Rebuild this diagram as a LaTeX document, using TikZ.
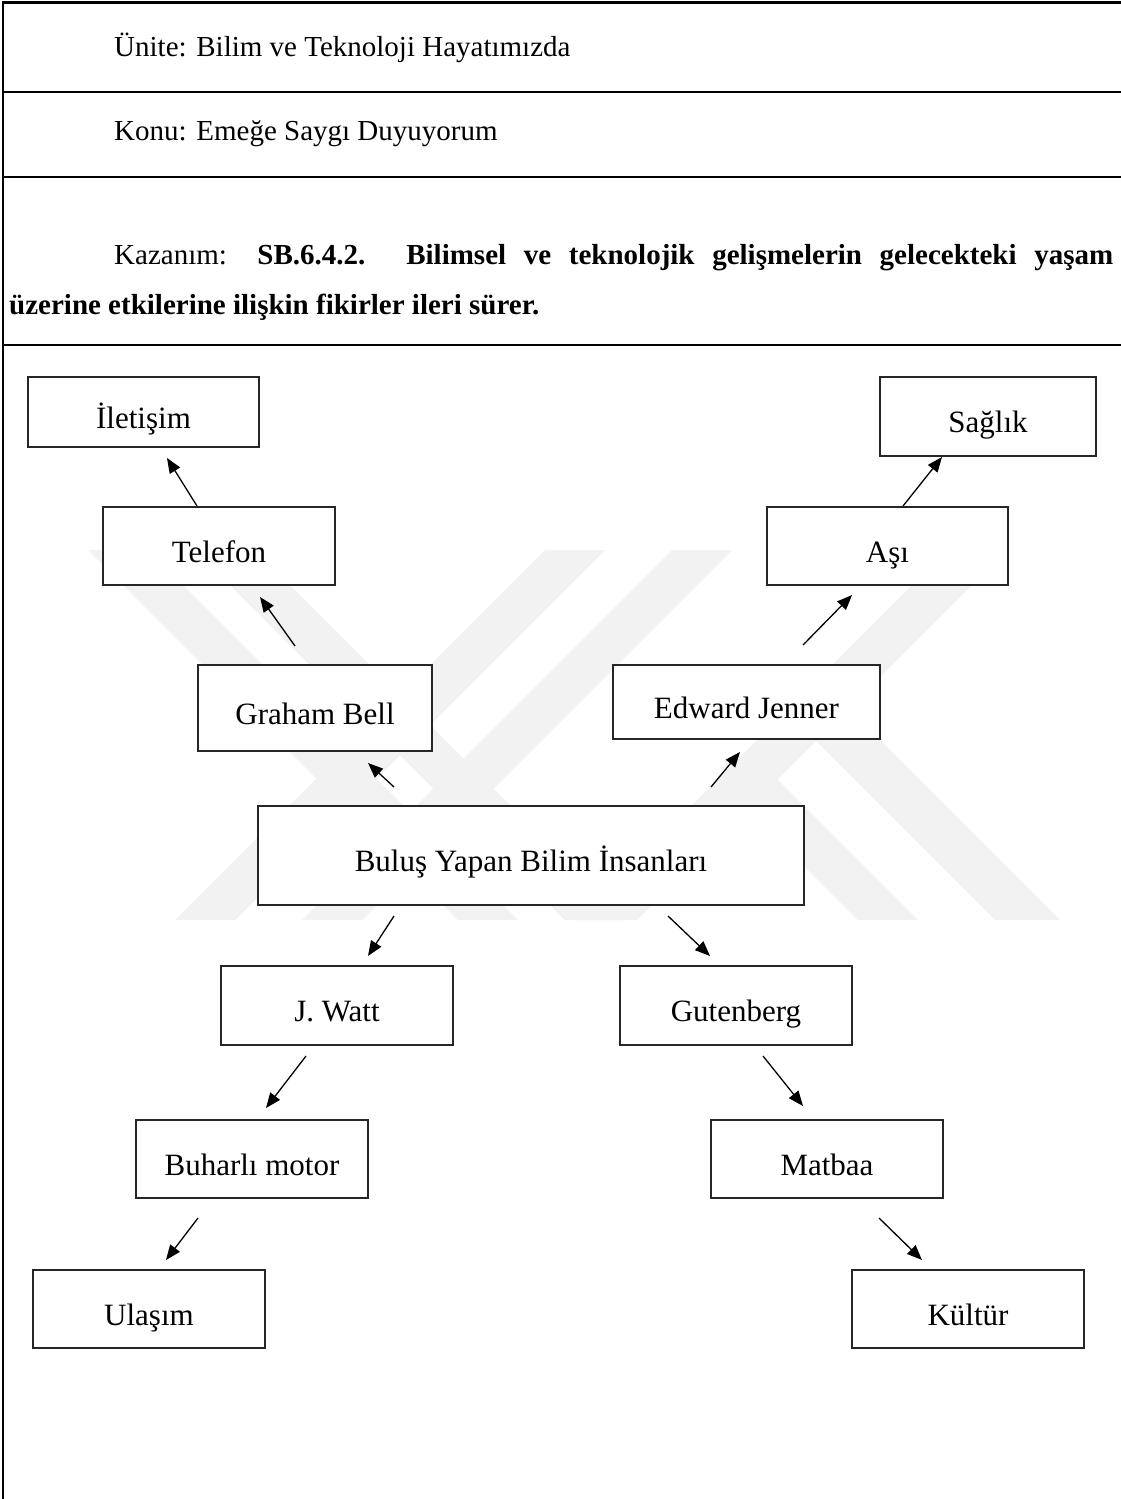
\documentclass[tikz,border=0pt]{standalone}
\usepackage{fontspec}
\setmainfont{Liberation Serif}
\usetikzlibrary{arrows.meta}
\begin{document}
\begin{tikzpicture}[x=1pt,y=-1pt,
  frameline/.style={line width=2.4pt,black},
  box/.style={draw=black!85,line width=1.3pt,fill=white,inner sep=0pt,
    font=\fontsize{31}{37}\selectfont,text height=33pt,text depth=1pt},
  arr/.style={line width=1.3pt,black,-{Triangle[length=15pt,width=12pt]}},
  hdr/.style={anchor=base west,inner sep=0pt,font=\fontsize{29}{35}\selectfont},
  wm/.style={fill=black!5,draw=none}]
\useasboundingbox (0,0) rectangle (1121,1499);
\fill[white] (0,0) rectangle (1121,1499);
% watermark
\fill[wm] (88,550) -- (148,550) -- (518,920) -- (458,920) -- cycle;
\fill[wm] (195,550) -- (255,550) -- (625,920) -- (565,920) -- cycle;
\fill[wm] (545,550) -- (605,550) -- (235,920) -- (175,920) -- cycle;
\fill[wm] (672,550) -- (732,550) -- (362,920) -- (302,920) -- cycle;
\fill[wm] (947,550) -- (1007,550) -- (637,920) -- (577,920) -- cycle;
\fill[wm] (717.5,779.5) -- (747.5,749.5) -- (918,920) -- (858,920) -- cycle;
\fill[wm] (786,711) -- (818.5,678.5) -- (1060,920) -- (995,920) -- cycle;
% frame
\draw[frameline] (3,1499) -- (3,2.5) -- (1121,2.5);
\draw[frameline] (3,92) -- (1121,92);
\draw[frameline] (3,177) -- (1121,177);
\draw[frameline] (3,345) -- (1121,345);
% header texts
\node[hdr] (unite) at (114,56) {Ünite: Bilim ve Teknoloji Hayatımızda};
\node[hdr] (konu) at (114,140) {Konu: Emeğe Saygı Duyuyorum};
\node[hdr] (kazanim) at (9,264) {\parbox[t]{1104pt}{\fontsize{29}{50}\selectfont\hspace*{105pt}Kazanım: \textbf{SB.6.4.2. Bilimsel ve teknolojik gelişmelerin gelecekteki yaşam\linebreak üzerine etkilerine ilişkin fikirler ileri sürer.}}};
% boxes
\node[box,minimum width=231pt,minimum height=70pt] (ilet) at (143.5,412) {İletişim};
\node[box,minimum width=216pt,minimum height=79pt] (saglik) at (988,416.5) {Sağlık};
\node[box,minimum width=232pt,minimum height=78pt] (telefon) at (219,546) {Telefon};
\node[box,minimum width=241pt,minimum height=78pt] (asi) at (887.5,546) {Aşı};
\node[box,minimum width=234pt,minimum height=86pt] (graham) at (315,708) {Graham Bell};
\node[box,minimum width=267pt,minimum height=74pt] (jenner) at (746.5,702) {Edward Jenner};
\node[box,minimum width=546pt,minimum height=99pt] (bulus) at (531,855.5) {Buluş Yapan Bilim İnsanları};
\node[box,minimum width=232pt,minimum height=79pt] (watt) at (337,1005.5) {J. Watt};
\node[box,minimum width=232pt,minimum height=79pt] (guten) at (736,1005.5) {Gutenberg};
\node[box,minimum width=232pt,minimum height=78pt] (buhar) at (252,1159) {Buharlı motor};
\node[box,minimum width=232pt,minimum height=78pt] (matbaa) at (827,1159) {Matbaa};
\node[box,minimum width=232pt,minimum height=78pt] (ulasim) at (149,1309) {Ulaşım};
\node[box,minimum width=232pt,minimum height=78pt] (kultur) at (968,1309) {Kültür};
% arrow end points
\coordinate (a1s) at (197,506);  \coordinate (a1e) at (167,458);
\coordinate (a2s) at (295,646);  \coordinate (a2e) at (260,597);
\coordinate (a3s) at (394,787);  \coordinate (a3e) at (368,763);
\coordinate (a4s) at (903,506);  \coordinate (a4e) at (942,457);
\coordinate (a5s) at (803,645);  \coordinate (a5e) at (852,595);
\coordinate (a6s) at (711,787);  \coordinate (a6e) at (740,752);
\coordinate (a7s) at (394,916);  \coordinate (a7e) at (368,956);
\coordinate (a8s) at (306,1056); \coordinate (a8e) at (266,1108);
\coordinate (a9s) at (198,1218); \coordinate (a9e) at (166,1260);
\coordinate (a10s) at (668,916); \coordinate (a10e) at (710,956);
\coordinate (a11s) at (763,1056); \coordinate (a11e) at (803,1106);
\coordinate (a12s) at (879,1218); \coordinate (a12e) at (922,1260);
\foreach \i in {1,...,12} {\draw[arr] (a\i s) -- (a\i e);}
\end{tikzpicture}
\end{document}
